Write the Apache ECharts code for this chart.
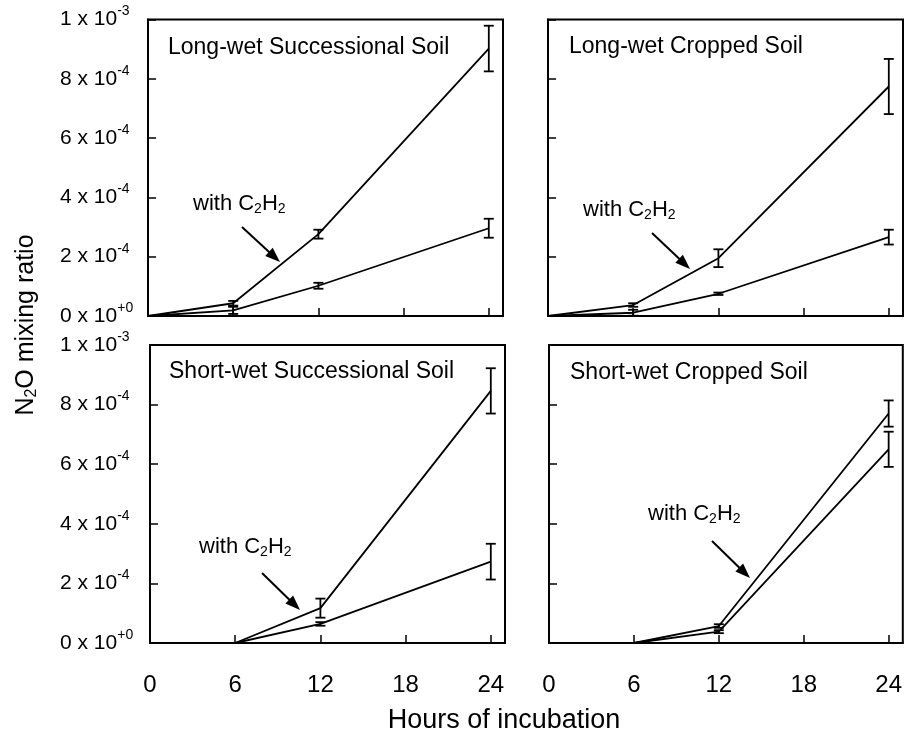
<!DOCTYPE html>
<html>
<head>
<meta charset="utf-8">
<script src="https://cdn.jsdelivr.net/npm/echarts@6/dist/echarts.min.js"></script>
<style>
html,body{margin:0;padding:0;background:#fff;}
#chart{width:905px;height:736px;}
</style>
</head>
<body>
<div id="chart"></div>
<script>
// ---- data ----
const hours = [0, 6, 12, 24];
const xTickValues = [0, 6, 12, 18, 24];
const xTickLabels = ['0', '6', '12', '18', '24'];
const yTickValues = [0, 2e-4, 4e-4, 6e-4, 8e-4, 1e-3];
const yTickMantissa = ['0', '2', '4', '6', '8', '1'];
const yTickExponent = ['+0', '-4', '-4', '-4', '-4', '-3'];

const panelTitles = ['Long-wet Successional Soil', 'Long-wet Cropped Soil', 'Short-wet Successional Soil', 'Short-wet Cropped Soil'];

// Long-wet Successional
const lwSuccWith = [0, 4.3e-5, 2.76e-4, 9.02e-4];
const lwSuccWithErr = [0, 0.8e-5, 1.5e-5, 7.7e-5];
const lwSuccNo = [0, 1.9e-5, 1.02e-4, 2.96e-4];
const lwSuccNoErr = [0, 1.2e-5, 1.0e-5, 3.2e-5];
// Long-wet Cropped
const lwCropWith = [0, 3.7e-5, 1.95e-4, 7.74e-4];
const lwCropWithErr = [0, 0.6e-5, 3.0e-5, 9.3e-5];
const lwCropNo = [0, 1.1e-5, 7.5e-5, 2.66e-4];
const lwCropNoErr = [0, 1.0e-5, 0.4e-5, 2.5e-5];
// Short-wet Successional
const swSuccWith = [0, 0, 1.17e-4, 8.46e-4];
const swSuccWithErr = [0, 0, 3.2e-5, 7.6e-5];
const swSuccNo = [0, 0, 6.4e-5, 2.73e-4];
const swSuccNoErr = [0, 0, 0.6e-5, 6.0e-5];
// Short-wet Cropped
const swCropWith = [0, 0, 5.7e-5, 7.7e-4];
const swCropWithErr = [0, 0, 0.6e-5, 4.4e-5];
const swCropNo = [0, 0, 3.8e-5, 6.5e-4];
const swCropNoErr = [0, 0, 0.5e-5, 5.9e-5];

const panels = [
  {with: lwSuccWith, withErr: lwSuccWithErr, no: lwSuccNo, noErr: lwSuccNoErr},
  {with: lwCropWith, withErr: lwCropWithErr, no: lwCropNo, noErr: lwCropNoErr},
  {with: swSuccWith, withErr: swSuccWithErr, no: swSuccNo, noErr: swSuccNoErr},
  {with: swCropWith, withErr: swCropWithErr, no: swCropNo, noErr: swCropNoErr}
];

// ---- layout ----
const FONT = '"Liberation Sans", Arial, Helvetica, sans-serif';
const NARROW = '"Liberation Sans Narrow", "Arial Narrow", "Liberation Sans", sans-serif';
const gridBoxes = [
  {left: 148, top: 19.5, width: 355, height: 296.5},
  {left: 548, top: 19.5, width: 355, height: 296.5},
  {left: 150, top: 345, width: 355, height: 298},
  {left: 549, top: 345, width: 355, height: 298}
];
const titlePos = [[168, 47.5], [569, 47], [169, 372], [570, 372.5]];
const annoText = [[193, 204], [583, 210], [199, 547], [648, 514]];
const annoArrow = [[242, 227, 280, 262], [652, 233, 690, 269], [262, 573, 300, 610], [712, 541, 750, 578]];

const chart = echarts.init(document.getElementById('chart'), null, {renderer: 'canvas'});

const grid = gridBoxes.map(b => Object.assign({
  show: true, borderColor: '#000', borderWidth: 2, backgroundColor: 'transparent', containLabel: false
}, b));

const xAxis = gridBoxes.map((b, i) => ({
  type: 'value', gridIndex: i, min: 0, max: 25, interval: 6,
  axisLine: {show: true, onZero: false, lineStyle: {color: '#000', width: 2}},
  axisTick: {show: true, inside: true, length: 8, lineStyle: {color: '#000', width: 1.5}, customValues: xTickValues},
  splitLine: {show: false},
  axisLabel: {
    show: i >= 2, customValues: xTickValues, margin: 30,
    color: '#000', fontSize: 24, fontFamily: NARROW,
    formatter: v => { const k = xTickValues.indexOf(Math.round(v)); return k >= 0 ? xTickLabels[k] : ''; }
  }
}));

const yAxis = gridBoxes.map((b, i) => ({
  type: 'value', gridIndex: i, min: 0, max: 1e-3, interval: 2e-4,
  axisLine: {show: true, onZero: false, lineStyle: {color: '#000', width: 2}},
  axisTick: {show: true, inside: true, length: 8, lineStyle: {color: '#000', width: 1.5}, customValues: yTickValues},
  splitLine: {show: false},
  axisLabel: {
    show: i % 2 === 0, customValues: yTickValues, align: 'left', margin: b.left - 60,
    formatter: v => {
      const k = yTickValues.findIndex(t => Math.abs(t - v) < 1e-9);
      if (k < 0) return '';
      return '{m|' + yTickMantissa[k] + ' x 10}{e|' + yTickExponent[k] + '}';
    },
    rich: {
      m: {fontSize: 21, fontFamily: FONT, color: '#000', lineHeight: 30},
      e: {fontSize: 14, fontFamily: FONT, color: '#000', lineHeight: 14, verticalAlign: 'top'}
    }
  }
}));

function errRender(params, api) {
  const x = api.value(0), y = api.value(1), e = api.value(2);
  if (!e) return null;
  const top = api.coord([x, y + e]);
  const bot = api.coord([x, y - e]);
  const cw = 5;
  const st = {stroke: '#000', lineWidth: 1.8};
  return {
    type: 'group',
    children: [
      {type: 'line', shape: {x1: top[0], y1: top[1], x2: bot[0], y2: bot[1]}, style: st},
      {type: 'line', shape: {x1: top[0] - cw, y1: top[1], x2: top[0] + cw, y2: top[1]}, style: st},
      {type: 'line', shape: {x1: bot[0] - cw, y1: bot[1], x2: bot[0] + cw, y2: bot[1]}, style: st}
    ]
  };
}

const series = [];
panels.forEach((p, i) => {
  [['with', 'withErr'], ['no', 'noErr']].forEach(([k, ek]) => {
    series.push({
      type: 'line', xAxisIndex: i, yAxisIndex: i,
      data: hours.map((h, j) => [h, p[k][j]]),
      symbol: 'none', lineStyle: {color: '#000', width: 1.8}, silent: true, z: 3
    });
    series.push({
      type: 'custom', xAxisIndex: i, yAxisIndex: i,
      data: hours.map((h, j) => [h, p[k][j], p[ek][j]]),
      renderItem: errRender, silent: true, z: 4
    });
  });
});

function arrow(x1, y1, x2, y2) {
  const dx = x2 - x1, dy = y2 - y1, L = Math.hypot(dx, dy);
  const ux = dx / L, uy = dy / L, hl = 15, hw = 5.5;
  const bx = x2 - ux * hl, by = y2 - uy * hl;
  return [
    {type: 'line', shape: {x1: x1, y1: y1, x2: bx + ux * 2, y2: by + uy * 2}, style: {stroke: '#000', lineWidth: 2}},
    {type: 'polygon', shape: {points: [[x2, y2], [bx - uy * hw, by + ux * hw], [bx + uy * hw, by - ux * hw]]}, style: {fill: '#000'}}
  ];
}

const graphic = [];
panelTitles.forEach((t, i) => {
  graphic.push({
    type: 'text', x: titlePos[i][0], y: titlePos[i][1],
    style: {text: t, fill: '#000', font: '23px ' + FONT, textAlign: 'left', textVerticalAlign: 'middle'}
  });
  graphic.push({
    type: 'text', x: annoText[i][0], y: annoText[i][1],
    style: {
      text: '{a|with C}{s|2}{a|H}{s|2}', textAlign: 'left', textVerticalAlign: 'middle',
      rich: {
        a: {fontSize: 22, fontFamily: FONT, fill: '#000', lineHeight: 24},
        s: {fontSize: 14, fontFamily: FONT, fill: '#000', lineHeight: 14, verticalAlign: 'bottom'}
      }
    }
  });
  arrow.apply(null, annoArrow[i]).forEach(g => graphic.push(g));
});
graphic.push({
  type: 'text', x: 26, y: 325, rotation: Math.PI / 2,
  style: {
    text: '{a|N}{s|2}{a|O mixing ratio}', textAlign: 'center', textVerticalAlign: 'middle',
    rich: {
      a: {fontSize: 25, fontFamily: FONT, fill: '#000', lineHeight: 28},
      s: {fontSize: 16, fontFamily: FONT, fill: '#000', lineHeight: 16, verticalAlign: 'bottom'}
    }
  }
});
graphic.push({
  type: 'text', x: 504, y: 721,
  style: {text: 'Hours of incubation', fill: '#000', font: '27px ' + NARROW, textAlign: 'center', textVerticalAlign: 'middle'}
});

chart.setOption({
  animation: false,
  backgroundColor: '#fff',
  grid: grid,
  xAxis: xAxis,
  yAxis: yAxis,
  series: series,
  graphic: graphic
});
</script>
</body>
</html>
